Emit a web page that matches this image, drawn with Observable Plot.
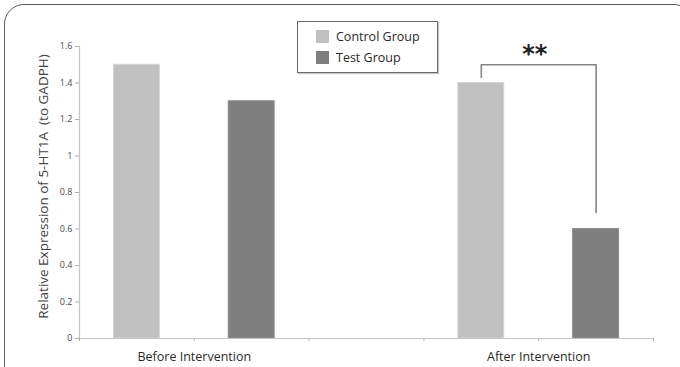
<!DOCTYPE html>
<html>
<head>
<meta charset="utf-8">
<script src="https://cdn.jsdelivr.net/npm/d3@7"></script>
<script src="https://cdn.jsdelivr.net/npm/@observablehq/plot@0.6"></script>
<style>
  html, body { margin: 0; padding: 0; background: #fff; overflow: hidden; }
  #wrap { position: relative; width: 680px; height: 367px; overflow: hidden; font-family: "Open Sans", sans-serif; }
  #frame { position: absolute; left: 4px; top: 4px; width: 690px; height: 420px; border: 1.6px solid #5a5a5a; border-radius: 20px; pointer-events: none; box-sizing: border-box; }
  #legend { position: absolute; left: 297px; top: 21px; width: 141px; height: 52px; box-sizing: border-box; border: 1.5px solid #6a6a6a; box-shadow: 1px 1px 1px #c8c8c8; background: #fff; }
  .item { position: absolute; left: 18px; display: flex; align-items: center; font-size: 12.5px; color: #2a2a2a; }
  .sw { width: 13px; height: 13px; margin-right: 7px; }
</style>
</head>
<body>
<div id="wrap">
  <div id="chart"></div>
  <div id="legend"></div>
  <div id="frame"></div>
</div>
<script>
const groups = ["Before Intervention", "After Intervention"];
const seriesNames = ["Control Group", "Test Group"];
const seriesColors = ["#c0c0c0", "#7f7f7f"];
const seriesEdges = ["#d4d4d4", "#8e8e8e"];
const controlValues = [1.5, 1.4];
const testValues = [1.3, 0.6];
const yTicks = [0, 0.2, 0.4, 0.6, 0.8, 1, 1.2, 1.4, 1.6];
const significance = "**";
const yTitle = "Relative Expression of 5-HT1A  (to GADPH)";

// slots: each group occupies two slots, with an empty slot between groups
const bars = [];
groups.forEach((g, gi) => {
  [controlValues, testValues].forEach((vals, si) => {
    bars.push({group: g, series: seriesNames[si], slot: gi * 3 + si, value: vals[gi], si});
  });
});
const slotCount = groups.length * 3 - 1;

// significance bracket between the two "After" bars
const cA = bars.find(d => d.group === groups[1] && d.si === 0);
const tA = bars.find(d => d.group === groups[1] && d.si === 1);
const bracketTop = 1.5;
const bracket = [
  {x: cA.slot + 0.5, y: cA.value + 0.03},
  {x: cA.slot + 0.5, y: bracketTop},
  {x: tA.slot + 0.5, y: bracketTop},
  {x: tA.slot + 0.5, y: tA.value + 0.09}
];

const chart = Plot.plot({
  width: 680,
  height: 367,
  marginLeft: 79,
  marginRight: 27,
  marginTop: 46,
  marginBottom: 29,
  style: {background: "transparent", fontFamily: "Open Sans, sans-serif"},
  x: {type: "linear", domain: [0, slotCount], axis: null},
  y: {domain: [0, 1.6], axis: null},
  marks: [
    Plot.rectY(bars, {
      x1: d => d.slot + 0.3, x2: d => d.slot + 0.7, y1: 0, y2: "value",
      fill: d => seriesColors[d.si], stroke: d => seriesEdges[d.si], strokeWidth: 1
    }),
    Plot.ruleX([0], {stroke: "#c4c4c4", strokeWidth: 1.2}),
    Plot.ruleY([0], {stroke: "#c4c4c4", strokeWidth: 1.2}),
    Plot.axisY({ticks: yTicks, tickSize: 4, tickPadding: 3, stroke: "#b0b0b0", fill: "#4a4a4a", fontSize: 9, label: null, tickFormat: d => String(d)}),
    Plot.axisX({ticks: d3.range(0, slotCount + 1), tickSize: 3, stroke: "#b0b0b0", tickFormat: () => "", label: null}),
    Plot.axisX({ticks: groups.map((g, i) => i * 3 + 1), tickSize: 0, tickPadding: 14, fill: "#2a2a2a", fontSize: 12.5, tickFormat: d => groups[(d - 1) / 3], label: null}),
    Plot.text([yTitle], {frameAnchor: "left", textAnchor: "middle", lineAnchor: "middle", rotate: -90, dx: -36, dy: -6, fontSize: 13.5, fill: "#444", text: d => d}),
    Plot.line(bracket, {x: "x", y: "y", stroke: "#858585", strokeWidth: 1.6, curve: "linear"}),
    Plot.text([significance], {x: (cA.slot + tA.slot) / 2 + 0.5, y: bracketTop, dy: -10, dx: -4, fontSize: 24, fontWeight: "bold", fontFamily: "DejaVu Sans", fill: "#222", text: d => d})
  ]
});
document.getElementById("chart").appendChild(chart);

const legend = document.getElementById("legend");
seriesNames.forEach((name, i) => {
  const item = document.createElement("div");
  item.className = "item";
  item.style.top = (6 + i * 21) + "px";
  item.innerHTML = `<span class="sw" style="background:${seriesColors[i]}"></span><span>${name}</span>`;
  legend.appendChild(item);
});
</script>
</body>
</html>
